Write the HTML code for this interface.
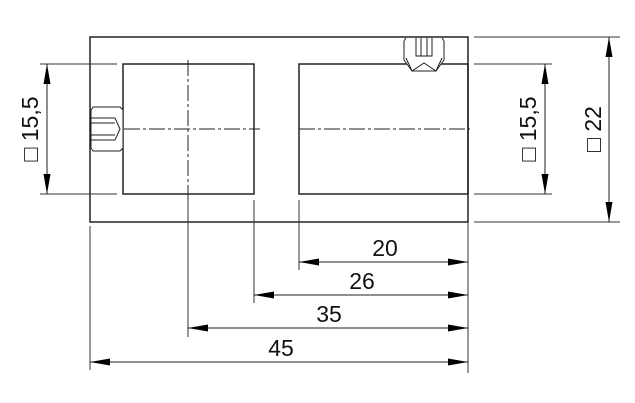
<!DOCTYPE html>
<html><head><style>body{margin:0;background:#fff}svg{display:block}</style></head><body>
<svg width="635" height="403" viewBox="0 0 635 403" xmlns="http://www.w3.org/2000/svg" font-family="Liberation Sans, sans-serif">
<defs>
<marker id="a" markerWidth="20" markerHeight="7" refX="20" refY="3.5" orient="auto-start-reverse" markerUnits="userSpaceOnUse"><path d="M0,0 L20,3.5 L0,7 Z" fill="#000"/></marker>
</defs>
<g stroke="#222" fill="none" stroke-width="1.5">
<rect x="90" y="37" width="378" height="185"/>
<rect x="123" y="64" width="131" height="130"/>
<rect x="299" y="64" width="169" height="130"/>
</g>
<g stroke="#222" stroke-width="1" stroke-dasharray="16,3,3,3">
<line x1="124" y1="129" x2="260" y2="129"/>
<line x1="299" y1="129" x2="470" y2="129"/>
<line x1="188" y1="60" x2="188" y2="200"/>
</g>
<g stroke="#333" stroke-width="1">
<line x1="40" y1="64" x2="117" y2="64"/><line x1="40" y1="194" x2="117" y2="194"/>
<line x1="474" y1="64" x2="552" y2="64"/><line x1="474" y1="194" x2="552" y2="194"/>
<line x1="474" y1="37" x2="620" y2="37"/><line x1="474" y1="222" x2="620" y2="222"/>
<line x1="90" y1="226" x2="90" y2="370"/>
<line x1="188" y1="200" x2="188" y2="337"/>
<line x1="254" y1="200" x2="254" y2="303"/>
<line x1="299" y1="200" x2="299" y2="270"/>
<line x1="468" y1="222" x2="468" y2="373"/>
</g>
<g stroke="#222" stroke-width="1" marker-start="url(#a)" marker-end="url(#a)">
<line x1="47" y1="64" x2="47" y2="194"/>
<line x1="545" y1="64" x2="545" y2="194"/>
<line x1="609" y1="37" x2="609" y2="222"/>
<line x1="299" y1="262" x2="468" y2="262"/>
<line x1="254" y1="295" x2="468" y2="295"/>
<line x1="188" y1="328" x2="468" y2="328"/>
<line x1="90" y1="362" x2="468" y2="362"/>
</g>
<g stroke="#222" stroke-width="1" fill="#fff">
<path d="M91,110 L93,107 L120,107 L123,110 L123,148 L120,151 L93,151 L91,148 Z"/>
<path d="M91,118 L115,118 L120,129 L115,140 L91,140" fill="none"/>
<line x1="91" y1="123" x2="115" y2="123"/><line x1="91" y1="135" x2="115" y2="135"/>
<path d="M406,38 L404,41 L404,60 L412,71 L436,71 L444,60 L444,41 L442,38" />
<path d="M416,38 L416,56 L432,56 L432,38" fill="none"/>
<line x1="421" y1="38" x2="421" y2="56"/><line x1="427" y1="38" x2="427" y2="56"/>
<path d="M412,71 L424,63 L436,71 M406,58 L412,71 M442,58 L436,71" fill="none"/>
</g>
<g font-size="23" fill="#111" text-anchor="middle">
<text x="385" y="256">20</text>
<text x="362" y="289">26</text>
<text x="329" y="322">35</text>
<text x="281" y="356">45</text>
<text transform="translate(38,129) rotate(-90)">□ 15,5</text>
<text transform="translate(536,129) rotate(-90)">□ 15,5</text>
<text transform="translate(601,129) rotate(-90)">□ 22</text>
</g>
</svg>
</body></html>
